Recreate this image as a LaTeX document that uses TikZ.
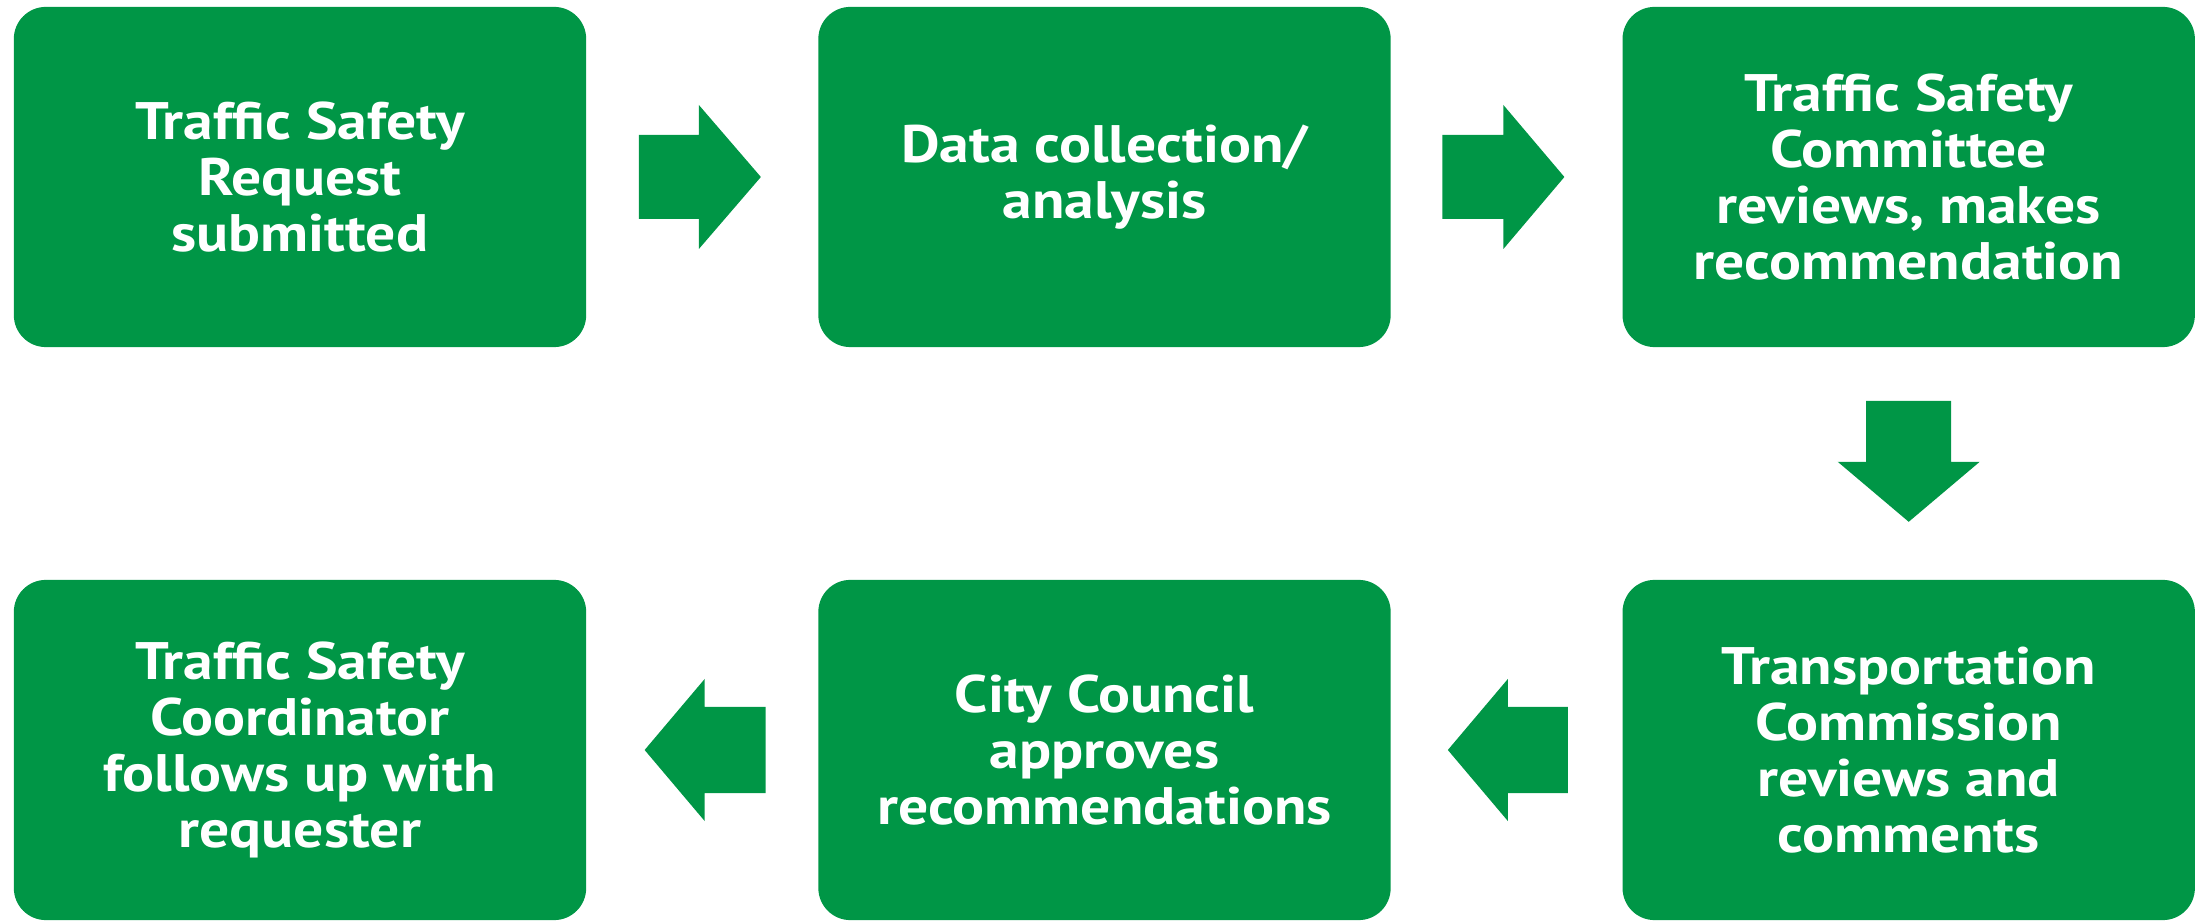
\documentclass[tikz,border=0pt]{standalone}
\usepackage{fontspec}
\setmainfont{PT Sans}[BoldFeatures={FakeStretch=1.13}]
\usetikzlibrary{calc}
\definecolor{boxgreen}{RGB}{0,150,70}
\tikzset{
  stepbox/.style={rectangle, fill=boxgreen, text=white, rounded corners=0.32cm,
    minimum width=5.72cm, minimum height=3.40cm, inner sep=0pt, align=center,
    font=\fontsize{15pt}{15.9pt}\selectfont\bfseries},
  blockarrow/.style={fill=boxgreen}
}
\begin{document}
\begin{tikzpicture}[x=0.01cm,y=-0.01cm]
\useasboundingbox (0,0) rectangle (2203,922);
\node[stepbox] (b1) at (300,177) {Traffic Safety\\Request\\submitted};
\node[stepbox] (b2) at (1104.5,177) {Data collection/\\analysis};
\node[stepbox] (b3) at (1908.7,177) {Traffic Safety\\Committee\\reviews, makes\\recommendation};
\node[stepbox] (b6) at (1908.7,750) {Transportation\\Commission\\reviews and\\comments};
\node[stepbox] (b5) at (1104.5,750) {City Council\\approves\\recommendations};
\node[stepbox] (b4) at (300,750) {Traffic Safety\\Coordinator\\follows up with\\requester};
% right arrows
\fill[blockarrow, shift={(b1.east)}] (52,-42) -- (112,-42) -- (112,-72) -- (174,0) -- (112,72) -- (112,42) -- (52,42) -- cycle;
\fill[blockarrow, shift={(b2.east)}] (51,-42) -- (112,-42) -- (112,-72) -- (173,0) -- (112,72) -- (112,42) -- (51,42) -- cycle;
% down arrow
\fill[blockarrow, shift={(b3.south)}] (-42.5,53) -- (-42.5,114) -- (-71,114) -- (0,174) -- (71,114) -- (42.5,114) -- (42.5,53) -- cycle;
% left arrows
\fill[blockarrow, shift={(b6.west)}] (-54,-43) -- (-114,-43) -- (-114,-71) -- (-174,0) -- (-114,71) -- (-114,43) -- (-54,43) -- cycle;
\fill[blockarrow, shift={(b5.west)}] (-52,-43) -- (-113,-43) -- (-113,-71) -- (-173,0) -- (-113,71) -- (-113,43) -- (-52,43) -- cycle;
\end{tikzpicture}
\end{document}
